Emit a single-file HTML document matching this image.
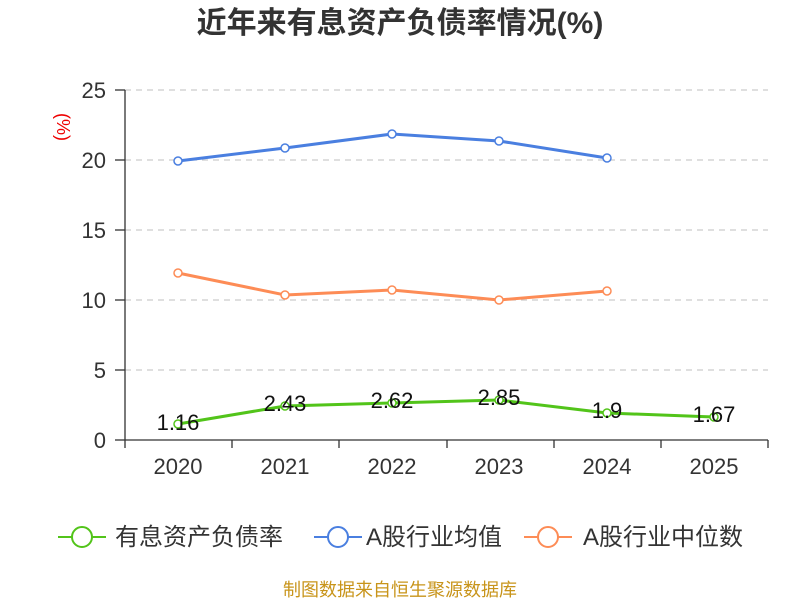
<!DOCTYPE html>
<html><head><meta charset="utf-8"><style>
body{margin:0;background:#fff}
svg{display:block;font-family:"Liberation Sans","Noto Sans CJK SC",sans-serif}
</style></head><body>
<svg width="800" height="600" viewBox="0 0 800 600">
<text x="400" y="33" text-anchor="middle" font-size="30" font-weight="bold" fill="#333">近年来有息资产负债率情况(%)</text>
<text transform="translate(57,127) rotate(90)" text-anchor="middle" font-size="18" fill="#e00">(%)</text>
<g stroke="#ccc" stroke-dasharray="6,5" stroke-width="1.3">
<line x1="125" y1="90" x2="768" y2="90"/><line x1="125" y1="160" x2="768" y2="160"/>
<line x1="125" y1="230" x2="768" y2="230"/><line x1="125" y1="300" x2="768" y2="300"/>
<line x1="125" y1="370" x2="768" y2="370"/>
</g>
<g stroke="#333" stroke-width="1.3">
<line x1="125" y1="90" x2="125" y2="440"/><line x1="125" y1="440" x2="768" y2="440"/>
<line x1="115" y1="90" x2="125" y2="90"/><line x1="115" y1="160" x2="125" y2="160"/><line x1="115" y1="230" x2="125" y2="230"/><line x1="115" y1="300" x2="125" y2="300"/><line x1="115" y1="370" x2="125" y2="370"/><line x1="115" y1="440" x2="125" y2="440"/>
<line x1="125" y1="440" x2="125" y2="448"/><line x1="232" y1="440" x2="232" y2="448"/><line x1="339" y1="440" x2="339" y2="448"/><line x1="447" y1="440" x2="447" y2="448"/><line x1="554" y1="440" x2="554" y2="448"/><line x1="661" y1="440" x2="661" y2="448"/><line x1="768" y1="440" x2="768" y2="448"/>
</g>
<g font-size="22" fill="#333" text-anchor="end">
<text x="106" y="98">25</text><text x="106" y="168">20</text><text x="106" y="238">15</text><text x="106" y="308">10</text><text x="106" y="378">5</text><text x="106" y="448">0</text>
</g>
<g font-size="22" fill="#333" text-anchor="middle">
<text x="178" y="474">2020</text><text x="285" y="474">2021</text><text x="392" y="474">2022</text><text x="499" y="474">2023</text><text x="607" y="474">2024</text><text x="714" y="474">2025</text>
</g>
<g fill="none" stroke-width="3">
<polyline stroke="#4a7fe0" points="178,161 285,148 392,134 499,141 607,158"/>
<polyline stroke="#fd8c56" points="178,273 285,295 392,290 499,300 607,291"/>
<polyline stroke="#52c41a" points="178,424 285,406 392,403 499,400 607,413 714,417"/>
</g>
<g fill="#fff" stroke-width="1.5">
<g stroke="#4a7fe0"><circle cx="178" cy="161" r="4"/><circle cx="285" cy="148" r="4"/><circle cx="392" cy="134" r="4"/><circle cx="499" cy="141" r="4"/><circle cx="607" cy="158" r="4"/></g>
<g stroke="#fd8c56"><circle cx="178" cy="273" r="4"/><circle cx="285" cy="295" r="4"/><circle cx="392" cy="290" r="4"/><circle cx="499" cy="300" r="4"/><circle cx="607" cy="291" r="4"/></g>
<g stroke="#52c41a"><circle cx="178" cy="424" r="4"/><circle cx="285" cy="406" r="4"/><circle cx="392" cy="403" r="4"/><circle cx="499" cy="400" r="4"/><circle cx="607" cy="413" r="4"/><circle cx="714" cy="417" r="4"/></g>
</g>
<g font-size="22" fill="#111" text-anchor="middle">
<text x="178" y="430">1.16</text><text x="285" y="411">2.43</text><text x="392" y="408">2.62</text><text x="499" y="405">2.85</text><text x="607" y="418">1.9</text><text x="714" y="422">1.67</text>
</g>
<g stroke-width="2" fill="#fff">
<line x1="58" y1="537" x2="106" y2="537" stroke="#52c41a"/><circle cx="82" cy="537" r="10" stroke="#52c41a"/>
<line x1="314" y1="537" x2="362" y2="537" stroke="#4a7fe0"/><circle cx="338" cy="537" r="10" stroke="#4a7fe0"/>
<line x1="524" y1="537" x2="572" y2="537" stroke="#fd8c56"/><circle cx="548" cy="537" r="10" stroke="#fd8c56"/>
</g>
<g font-size="24" fill="#333">
<text x="115" y="545">有息资产负债率</text><text x="366" y="545">A股行业均值</text><text x="583" y="545">A股行业中位数</text>
</g>
<text x="400" y="596" text-anchor="middle" font-size="18" fill="#c8941a">制图数据来自恒生聚源数据库</text>
</svg>
</body></html>
